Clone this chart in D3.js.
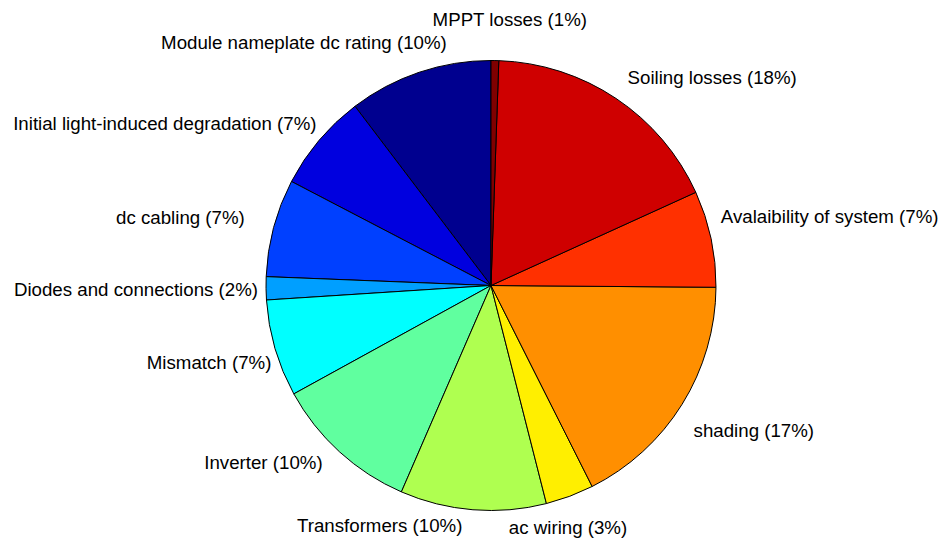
<!DOCTYPE html>
<html>
<head>
<meta charset="utf-8">
<script src="https://cdn.jsdelivr.net/npm/d3@7"></script>
<style>
  html, body { margin: 0; padding: 0; background: #fff; }
  svg { display: block; }
  text { font-family: "Liberation Sans", Arial, sans-serif; font-size: 18.7px; fill: #000; }
</style>
</head>
<body>
<svg id="chart" width="942" height="543"></svg>
<script>
// PV system loss breakdown, listed in drawing order (counter-clockwise from 12 o'clock)
const categories = [
  "Module nameplate dc rating",
  "Initial light-induced degradation",
  "dc cabling",
  "Diodes and connections",
  "Mismatch",
  "Inverter",
  "Transformers",
  "ac wiring",
  "shading",
  "Avalaibility of system",
  "Soiling losses",
  "MPPT losses"
];
const lossShares = [10.3, 7.0, 7.0, 1.65, 6.95, 10.45, 10.45, 3.45, 17.4, 6.9, 17.6, 0.55];

// Slice colours: jet colormap sampled the way the plotting tool indexes it
const sliceColors = [
  "#00008f", "#0000df", "#0040ff", "#009fff", "#00ffff", "#60ff9f",
  "#afff50", "#ffef00", "#ff8f00", "#ff3000", "#cf0000", "#800000"
];

// Label placement tweaks [dx, dy] relative to the 1.1r point on each slice's mid-angle
const labelNudge = [
  [34.7, -8.1], [14.6, -2.1], [-7, -4], [14.5, 1], [18, 8], [-1.7, -6.4],
  [-8.7, -6.4], [-68.8, 10.6], [-7.6, 14.4], [-12.3, -17.6], [-1, -2.4], [-62.7, -18.8]
];

const svg = d3.select("#chart");
const cx = 491, cy = 285.5, radius = 225;

const total = d3.sum(lossShares);
const data = categories.map((name, i) => ({ name, value: lossShares[i], color: sliceColors[i], nudge: labelNudge[i] }));

const pie = d3.pie()
  .sort(null)
  .value(d => d.value)
  .startAngle(0)
  .endAngle(-2 * Math.PI);

const arc = d3.arc().innerRadius(0).outerRadius(radius);

const g = svg.append("g").attr("transform", `translate(${cx},${cy})`);

const arcs = pie(data);

g.selectAll("path.slice")
  .data(arcs)
  .join("path")
  .attr("class", "slice")
  .attr("d", arc)
  .attr("fill", d => d.data.color)
  .attr("stroke", "#000")
  .attr("stroke-width", 1)
  .attr("stroke-linejoin", "round");

const labelR = radius * 1.1;
g.selectAll("text.label")
  .data(arcs)
  .join("text")
  .attr("class", "label")
  .attr("x", d => {
    const a = (d.startAngle + d.endAngle) / 2;
    return labelR * Math.sin(a) + d.data.nudge[0];
  })
  .attr("y", d => {
    const a = (d.startAngle + d.endAngle) / 2;
    return -labelR * Math.cos(a) + d.data.nudge[1];
  })
  .attr("dy", "0.35em")
  .attr("text-anchor", d => Math.sin((d.startAngle + d.endAngle) / 2) >= 0 ? "start" : "end")
  .text(d => `${d.data.name} (${Math.round(d.data.value / total * 100)}%)`);
</script>
</body>
</html>
